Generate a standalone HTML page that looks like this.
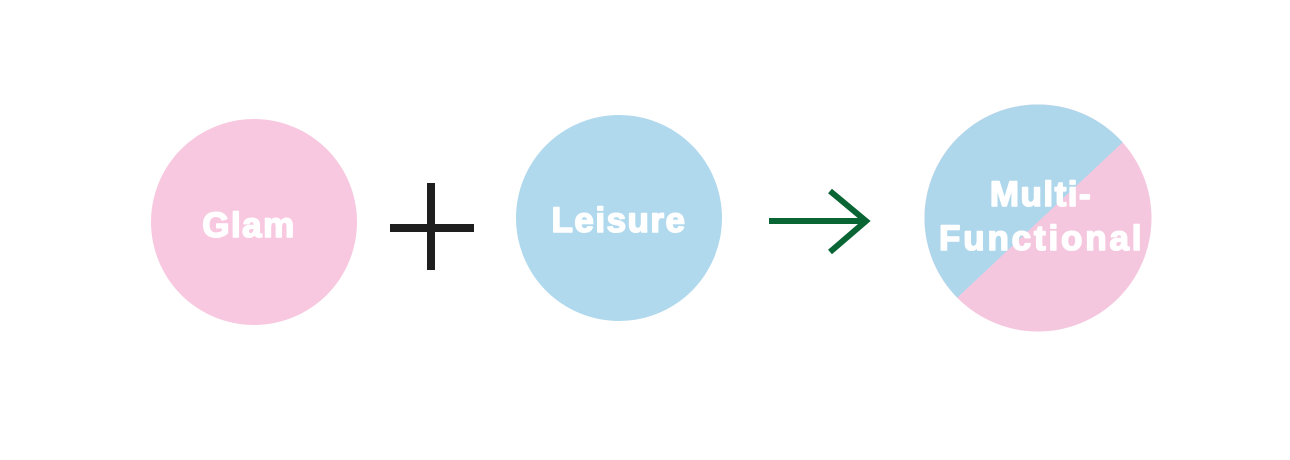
<!DOCTYPE html>
<html><head><style>html,body{margin:0;padding:0;background:#fff}</style></head><body>
<svg width="1290" height="455" viewBox="0 0 1290 455" xmlns="http://www.w3.org/2000/svg">
<defs><clipPath id="c"><circle cx="1038" cy="218" r="113.5"/></clipPath></defs>
<circle cx="254" cy="222" r="103" fill="#f7c8df"/>
<circle cx="619" cy="218" r="103" fill="#b0d9ee"/>
<g clip-path="url(#c)">
<rect x="920" y="100" width="240" height="240" fill="#f5c7de"/>
<polygon points="900,100 1170,100 1122,143 958,297 900,350" fill="#afd7ec"/>
</g>
<path d="M1122,143 L1160,107 L1160,100 L1122,100Z" fill="#afd7ec" clip-path="url(#c)"/>
<rect x="427" y="183" width="8" height="87" fill="#1e1e1e"/>
<rect x="390" y="224" width="84" height="8" fill="#1e1e1e"/>
<line x1="769" y1="221" x2="866" y2="221" stroke="#0a6535" stroke-width="6"/>
<polyline points="830,191 866,221 830,252" fill="none" stroke="#0a6535" stroke-width="6"/>
<g font-family="Liberation Sans, Arial, sans-serif" font-weight="bold" fill="#fff" stroke="#fff" stroke-width="1.6" stroke-linejoin="round" text-anchor="middle" font-size="35" letter-spacing="1.5">
<text x="249" y="237">Glam</text>
<text x="619" y="232">Leisure</text>
<text x="1041" y="206">Multi-</text>
<text x="1041" y="250" textLength="204" lengthAdjust="spacing">Functional</text>
</g>
</svg>
</body></html>
